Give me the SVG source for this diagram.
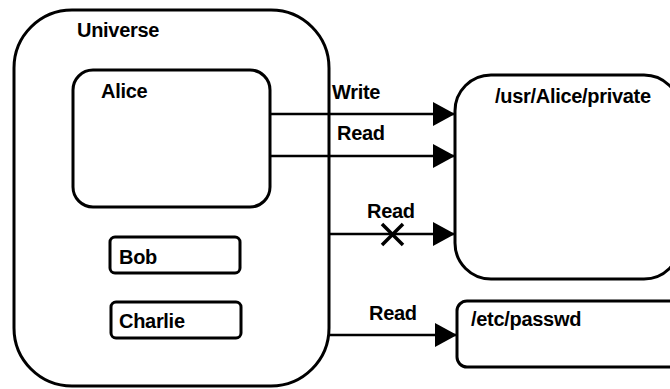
<svg xmlns="http://www.w3.org/2000/svg" width="670" height="389" viewBox="0 0 670 389">
<style>
.box{fill:none;stroke:#000;stroke-width:3}
.ln{fill:none;stroke:#000;stroke-width:2.6}
.x{fill:none;stroke:#000;stroke-width:3.5}
text{font-family:"Liberation Sans",Arial,Helvetica,sans-serif;font-weight:bold;font-size:20px;letter-spacing:-0.3px;fill:#000}
</style>
<defs>
<marker id="ah" markerUnits="userSpaceOnUse" markerWidth="22" markerHeight="24" refX="22" refY="12" orient="auto">
<path d="M0,0 L22,12 L0,24 Z" fill="#000"/>
</marker>
</defs>
<rect width="670" height="389" fill="#fff"/>
<g id="universe">
<rect class="box" x="14" y="10" width="315" height="376" rx="58" ry="58"/>
<text x="77" y="37">Universe</text>
</g>
<g id="alice">
<rect class="box" x="73" y="70" width="197" height="137" rx="20" ry="20"/>
<text x="101" y="98">Alice</text>
</g>
<g id="bob">
<rect class="box" x="110" y="237" width="130" height="36" rx="5" ry="5"/>
<text x="119" y="264">Bob</text>
</g>
<g id="charlie">
<rect class="box" x="111" y="302" width="130" height="36" rx="5" ry="5"/>
<text x="119" y="328">Charlie</text>
</g>
<g id="usr-alice-private">
<rect class="box" x="455" y="75" width="225" height="204" rx="36" ry="36"/>
<text x="495" y="103">/usr/Alice/private</text>
</g>
<g id="etc-passwd">
<rect class="box" x="457" y="301" width="230" height="66" rx="10" ry="10"/>
<text x="471" y="326">/etc/passwd</text>
</g>
<g id="connectors">
<line class="ln" x1="270" y1="114" x2="455" y2="114" marker-end="url(#ah)"/>
<text x="332" y="99">Write</text>
<line class="ln" x1="270" y1="156" x2="455" y2="156" marker-end="url(#ah)"/>
<text x="337" y="140">Read</text>
<line class="ln" x1="329" y1="234" x2="455" y2="234" marker-end="url(#ah)"/>
<text x="367" y="218">Read</text>
<path class="x" d="M382,224 L403,245 M403,224 L382,245"/>
<line class="ln" x1="329" y1="335" x2="457" y2="335" marker-end="url(#ah)"/>
<text x="369" y="320">Read</text>
</g>
</svg>
